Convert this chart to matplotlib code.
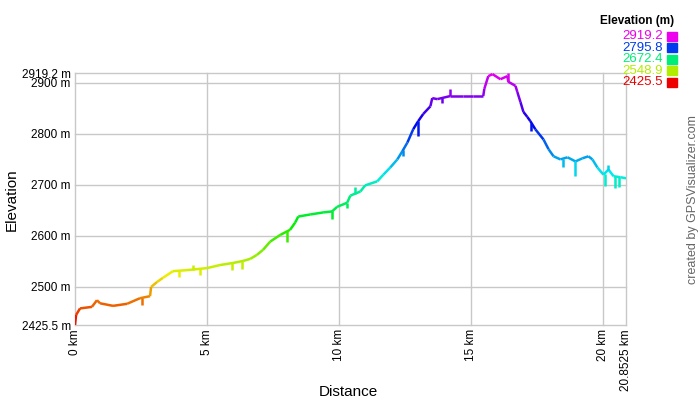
import numpy as np
import matplotlib
matplotlib.use("Agg")
import matplotlib.pyplot as plt
from matplotlib.collections import LineCollection
from matplotlib.colors import hsv_to_rgb

plt.rcParams['font.family'] = ['Liberation Sans', 'DejaVu Sans']

# profil (km, m)
dist = [0.0, 0.04, 0.19, 0.64, 0.83, 0.95, 1.44, 1.97, 2.46, 2.84, 2.88, 3.11, 3.33, 3.71,
        4.24, 5.0, 5.49, 5.98, 6.36, 6.63, 6.89, 7.12, 7.39, 7.77, 8.14, 8.33, 8.45, 8.90,
        9.39, 9.73, 9.92, 10.30, 10.42, 10.80, 10.98, 11.44, 11.67, 11.93, 12.20, 12.39,
        12.58, 12.80, 12.99, 13.18, 13.45, 13.52, 13.71, 14.20, 14.70, 15.08, 15.45, 15.49,
        15.64, 15.80, 16.10, 16.36, 16.40, 16.67, 16.74, 16.86, 16.97, 17.12, 17.23, 17.42,
        17.73, 17.92, 18.11, 18.37, 18.64, 18.94, 19.20, 19.43, 19.58, 19.77, 20.0, 20.19,
        20.38, 20.64, 20.8525]
elev = [2425.5, 2445, 2458, 2461, 2474, 2468, 2463, 2467, 2478, 2482, 2500, 2510, 2518, 2531,
        2533, 2537, 2543, 2547, 2551, 2555, 2563, 2573, 2589, 2602, 2612, 2626, 2638, 2642,
        2646, 2648, 2657, 2665, 2679, 2687, 2699, 2707, 2720, 2734, 2750, 2766,
        2783, 2809, 2825, 2839, 2854, 2870, 2868, 2874, 2874, 2874, 2874, 2888,
        2913, 2917, 2907, 2913, 2902, 2894, 2882, 2862, 2843, 2833, 2825, 2809,
        2789, 2770, 2756, 2750, 2754, 2746, 2752, 2756, 2750, 2734, 2720, 2730,
        2717, 2715, 2713]

# pics verticaux (bruit GPS)
spike_km = [2.54, 3.94, 4.47, 4.73, 5.95, 6.33, 8.03, 9.73, 10.3, 10.6, 12.42, 12.99,
            13.9, 14.2, 16.4, 17.27, 18.45, 18.94, 20.04, 20.19, 20.42, 20.57]
spike_elev = [2465, 2519, 2543, 2524, 2533, 2535, 2589, 2634, 2655, 2695, 2756, 2795,
              2860, 2888, 2919, 2805, 2736, 2717, 2697, 2738, 2693, 2695]

ymin, ymax = 2425.5, 2919.2
xmax = 20.8525
yticks = [2425.5, 2500, 2600, 2700, 2800, 2900, 2919.2]
ytick_labels = ['2425.5 m', '2500 m', '2600 m', '2700 m', '2800 m', '2900 m', '2919.2 m']
xticks = [0, 5, 10, 15, 20, xmax]
xtick_labels = ['0 km', '5 km', '10 km', '15 km', '20 km', '20.8525 km']
legend_vals = [2919.2, 2795.8, 2672.4, 2548.9, 2425.5]


def couleur(e):
    t = np.clip((np.asarray(e) - ymin) / (ymax - ymin), 0, 1)
    hsv = np.stack([t * 300 / 360, np.ones_like(t), np.full_like(t, 0.93)], axis=-1)
    return hsv_to_rgb(hsv)


fig = plt.figure(figsize=(7, 4), dpi=100)
ax = fig.add_axes([75 / 700, 75 / 400, 551 / 700, 252 / 400])

x = np.array(dist)
y = np.array(elev)
pts = np.column_stack([x, y]).reshape(-1, 1, 2)
segs = np.concatenate([pts[:-1], pts[1:]], axis=1)
lc = LineCollection(segs, colors=couleur((y[:-1] + y[1:]) / 2), linewidths=1.8,
                    capstyle='butt', zorder=3)
ax.add_collection(lc)

sk = np.array(spike_km)
base = np.interp(sk, x, y)
ax.vlines(sk, base, spike_elev, colors=couleur((base + np.array(spike_elev)) / 2),
          linewidth=1.8, zorder=3)

ax.set_xlim(0, xmax)
ax.set_ylim(ymin, ymax)
ax.set_yticks(yticks)
ax.set_yticklabels(ytick_labels, fontsize=8.5)
ax.set_xticks(xticks)
ax.set_xticklabels(xtick_labels, rotation=90, fontsize=8.5)
ax.tick_params(length=0, pad=3)
ax.grid(True, color='#c8c8c8', linewidth=1)
for g in ax.get_xgridlines() + ax.get_ygridlines():
    g.set_clip_on(False)
for s in ax.spines.values():
    s.set_visible(False)
ax.set_axisbelow(True)

fig.text(12 / 700, 1 - 200 / 400, 'Elevation', rotation=90, ha='center', va='center', fontsize=11)
fig.text(348 / 700, 1 - 392 / 400, 'Distance', ha='center', va='center', fontsize=11)

# légende
fig.text(637 / 700, 1 - 21 / 400, 'Elevation (m)', ha='center', va='center',
         fontsize=8.5, fontweight='bold')
for i, v in enumerate(legend_vals):
    yy = 1 - (36 + i * 11.6) / 400
    c = couleur(v)
    fig.text(663 / 700, yy, f'{v:.1f}', ha='right', va='center', fontsize=9.5, color=c)
    fig.patches.append(plt.Rectangle((667 / 700, yy - 4.5 / 400), 10 / 700, 9 / 400,
                                     transform=fig.transFigure, color=c, figure=fig))

fig.text(693 / 700, 1 - 200 / 400, 'created by GPSVisualizer.com', rotation=90,
         ha='center', va='center', fontsize=9, color='#666666')

fig.savefig('out.png', dpi=100)
